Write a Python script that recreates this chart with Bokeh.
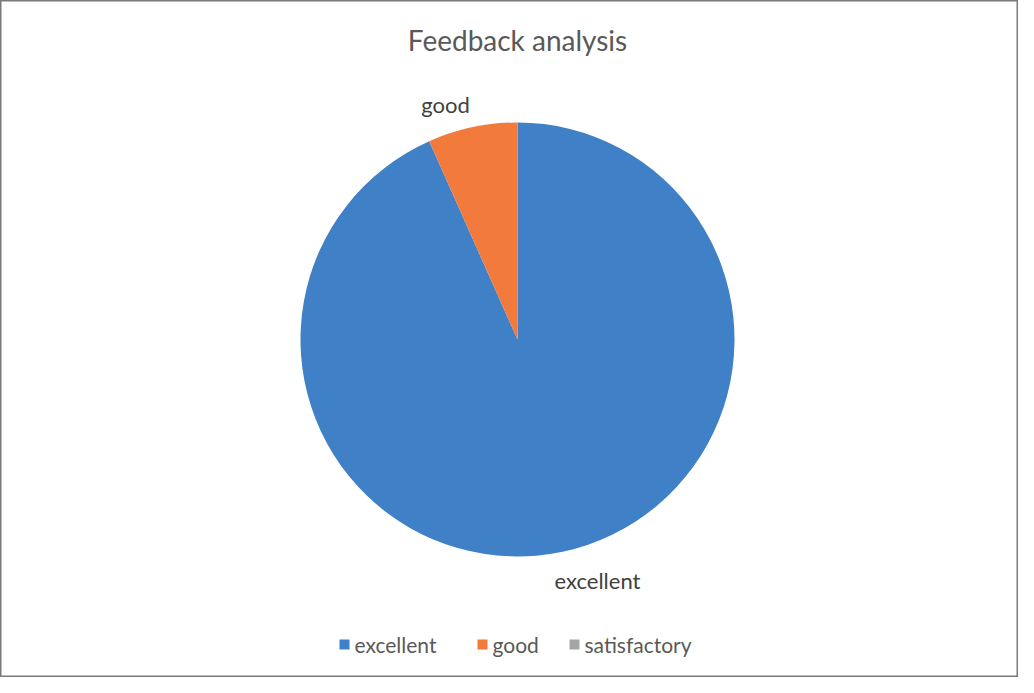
import numpy as np
from bokeh.plotting import figure
from bokeh.models import Range1d, ColumnDataSource
from bokeh.core.properties import value
from bokeh.embed import file_html
from bokeh.resources import INLINE

# ---- data ----
categories = ["excellent", "good", "satisfactory"]
counts = [28, 2, 0]
colors = ["#4080c6", "#f27a3c", "#a5a5a5"]
title_text = "Feedback analysis"

FONT = "Lato"
W, H = 1018, 677

p = figure(width=W, height=H, output_backend="svg", toolbar_location=None,
           x_range=Range1d(8, 8 + W), y_range=Range1d(693 - 8 - H, 693 - 8),
           min_border=0, min_border_left=0, min_border_right=0,
           min_border_top=0, min_border_bottom=0)
p.axis.visible = False
p.grid.visible = False
p.outline_line_color = "#7a7a7a"
p.outline_line_width = 2
p.background_fill_color = "white"
p.border_fill_color = "white"

# pie geometry (page pixel coords, y flipped)
cx, cy, r = 525, 693 - 347, 217
vals = np.array(counts, dtype=float)
frac = vals / vals.sum()
cum = np.cumsum(frac)
prev = np.concatenate([[0.0], cum[:-1]])
start = np.pi / 2 - 2 * np.pi * prev
end = np.pi / 2 - 2 * np.pi * cum

mask = vals > 0
src = ColumnDataSource(dict(
    x=[cx] * int(mask.sum()), y=[cy] * int(mask.sum()),
    start=start[mask], end=end[mask],
    color=[c for c, m in zip(colors, mask) if m],
))
p.wedge(x="x", y="y", radius=r, start_angle="start", end_angle="end",
        direction="clock", fill_color="color", line_color=None, source=src)

# data labels (outside end, placed as in Excel)
lab_t = [c for c, v in zip(categories, counts) if v > 0]
lab_pos = {"excellent": (605, 693 - 588), "good": (453, 693 - 112)}
lab_x = [lab_pos[t][0] for t in lab_t]
lab_y = [lab_pos[t][1] for t in lab_t]
p.text(x=lab_x, y=lab_y, text=lab_t, text_align="center", text_baseline="middle",
       text_font=value(FONT), text_font_size="22px", text_color="#404040")

# title
p.text(x=[525], y=[693 - 47], text=[title_text], text_align="center",
       text_baseline="middle", text_font=value(FONT), text_font_size="28px",
       text_color="#595959")

# legend
leg_sq_x = [352, 490, 582]
leg_y = 693 - 652
p.scatter(x=leg_sq_x, y=[leg_y] * 3, marker="square", size=10,
          fill_color=colors, line_color=None)
p.text(x=[x + 10 for x in leg_sq_x], y=[leg_y] * 3, text=categories,
       text_align="left", text_baseline="middle", text_font=value(FONT),
       text_font_size="21px", text_color="#595959")

open("out.html", "w").write(file_html(p, INLINE))
